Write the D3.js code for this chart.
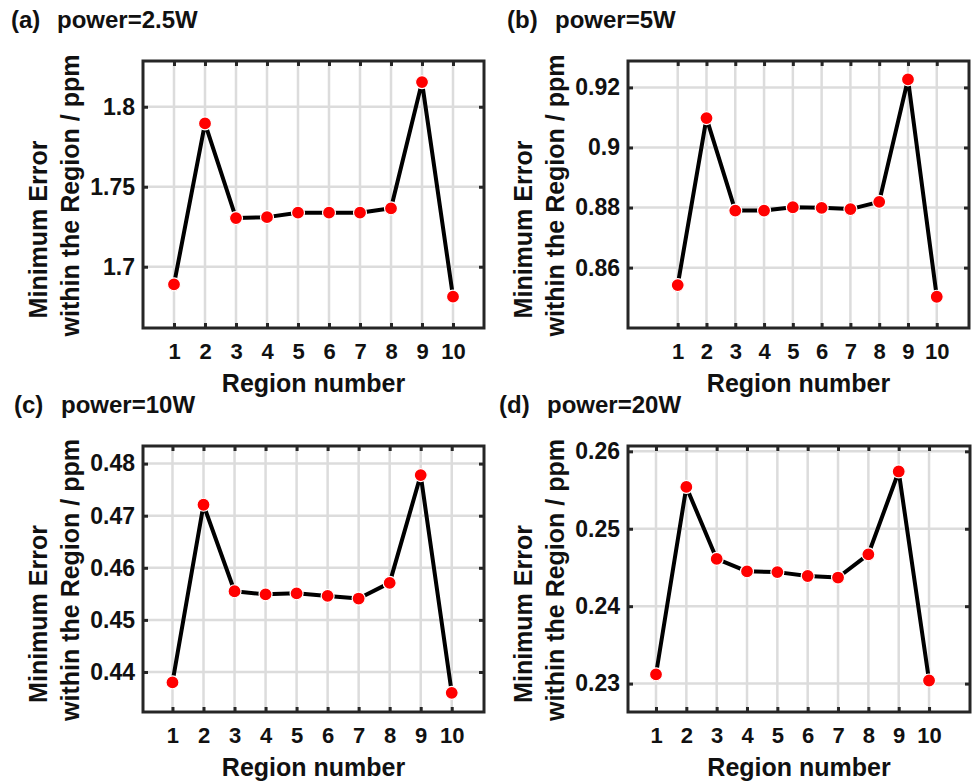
<!DOCTYPE html>
<html>
<head>
<meta charset="utf-8">
<script src="https://cdn.jsdelivr.net/npm/d3@7"></script>
<style>
  body { margin: 0; background: #fff; }
  text { font-family: "Liberation Sans", Arial, Helvetica, sans-serif; font-weight: bold; fill: #111; }
</style>
</head>
<body>
<div id="chart"></div>
<script>
// data
var regions = [1, 2, 3, 4, 5, 6, 7, 8, 9, 10];
var errA = [1.6890, 1.7896, 1.7304, 1.7310, 1.7338, 1.7338, 1.7338, 1.7365, 1.8154, 1.6813];
var errB = [0.8542, 0.9098, 0.8790, 0.8790, 0.8801, 0.8799, 0.8795, 0.8819, 0.9227, 0.8503];
var errC = [0.4380, 0.4721, 0.4555, 0.4549, 0.4551, 0.4546, 0.4541, 0.4571, 0.4778, 0.4360];
var errD = [0.2312, 0.2554, 0.2461, 0.2445, 0.2444, 0.2439, 0.2437, 0.2467, 0.2574, 0.2304];

var ticksA = [1.7, 1.75, 1.8];
var ticksB = [0.86, 0.88, 0.9, 0.92];
var ticksC = [0.44, 0.45, 0.46, 0.47, 0.48];
var ticksD = [0.23, 0.24, 0.25, 0.26];

var letters = ["(a)", "(b)", "(c)", "(d)"];
var powers = ["power=2.5W", "power=5W", "power=10W", "power=20W"];
var xLabel = "Region number";
var yLabel1 = "Minimum Error";
var yLabel2 = "within the Region / ppm";

// layout of each panel (plot box in page pixels, axis domains)
var panels = [
  {vals: errA, ticks: ticksA, left: 143, top: 61, right: 484, bottom: 328,
   xdom: [0, 11], ydom: [1.6617, 1.8286], letterX: 11, powerX: 57, titleY: 28},
  {vals: errB, ticks: ticksB, left: 628, top: 61, right: 969, bottom: 328,
   xdom: [-0.727, 11.12], ydom: [0.8399, 0.9288], letterX: 507, powerX: 555, titleY: 28},
  {vals: errC, ticks: ticksC, left: 143, top: 446, right: 484, bottom: 712,
   xdom: [0.05, 11.04], ydom: [0.43232, 0.48338], letterX: 14, powerX: 61, titleY: 413},
  {vals: errD, ticks: ticksD, left: 628, top: 446, right: 970, bottom: 712,
   xdom: [0.077, 11.35], ydom: [0.22633, 0.26069], letterX: 499, powerX: 547, titleY: 413}
];

var svg = d3.select("#chart").append("svg")
    .attr("width", 973)
    .attr("height", 781);

var fmt = function(d) { return String(+d.toFixed(4)); };

panels.forEach(function(p, i) {
  var w = p.right - p.left,
      h = p.bottom - p.top;

  var x = d3.scaleLinear().domain(p.xdom).range([0, w]);
  var y = d3.scaleLinear().domain(p.ydom).range([h, 0]);

  var g = svg.append("g")
      .attr("transform", "translate(" + p.left + "," + p.top + ")");

  // grid
  g.selectAll(".vgrid")
      .data(regions)
      .enter().append("line")
      .attr("x1", function(d) { return x(d); })
      .attr("x2", function(d) { return x(d); })
      .attr("y1", 0).attr("y2", h)
      .attr("stroke", "#dcdcdc")
      .attr("stroke-width", 2.5);

  g.selectAll(".hgrid")
      .data(p.ticks)
      .enter().append("line")
      .attr("x1", 0).attr("x2", w)
      .attr("y1", function(d) { return y(d); })
      .attr("y2", function(d) { return y(d); })
      .attr("stroke", "#dcdcdc")
      .attr("stroke-width", 2.5);

  // axes, ticks pointing inward on all four sides
  var bottom = g.append("g")
      .attr("transform", "translate(0," + h + ")")
      .call(d3.axisBottom(x).tickValues(regions).tickSize(-5).tickPadding(15));
  g.append("g")
      .call(d3.axisTop(x).tickValues(regions).tickSize(-5).tickFormat(""));
  var left = g.append("g")
      .call(d3.axisLeft(y).tickValues(p.ticks).tickSize(-5).tickPadding(8).tickFormat(fmt));
  g.append("g")
      .attr("transform", "translate(" + w + ",0)")
      .call(d3.axisRight(y).tickValues(p.ticks).tickSize(-5).tickFormat(""));

  g.selectAll(".domain").remove();
  g.selectAll(".tick line").attr("stroke", "#262626").attr("stroke-width", 3);
  bottom.selectAll("text").style("font-size", "22px").attr("fill", "#111");
  left.selectAll("text").style("font-size", "23px").attr("fill", "#111");

  // box
  g.append("rect")
      .attr("width", w)
      .attr("height", h)
      .attr("fill", "none")
      .attr("stroke", "#262626")
      .attr("stroke-width", 3);

  // line and markers
  var line = d3.line()
      .x(function(d, j) { return x(regions[j]); })
      .y(function(d) { return y(d); });

  g.append("path")
      .datum(p.vals)
      .attr("d", line)
      .attr("fill", "none")
      .attr("stroke", "#000")
      .attr("stroke-width", 4)
      .attr("stroke-linejoin", "round");

  g.selectAll(".dot")
      .data(p.vals)
      .enter().append("circle")
      .attr("cx", function(d, j) { return x(regions[j]); })
      .attr("cy", function(d) { return y(d); })
      .attr("r", 6.5)
      .attr("fill", "#ff0000")
      .attr("stroke", "#fff")
      .attr("stroke-width", 1.2);

  // axis labels
  g.append("text")
      .attr("x", w / 2)
      .attr("y", h + 64)
      .attr("text-anchor", "middle")
      .style("font-size", "25px")
      .text(xLabel);

  g.append("text")
      .attr("transform", "translate(" + (-96) + "," + (h / 2 + 35) + ") rotate(-90)")
      .attr("text-anchor", "middle")
      .style("font-size", "25px")
      .text(yLabel1);

  g.append("text")
      .attr("transform", "translate(" + (-64) + "," + (h / 2 + 1) + ") rotate(-90)")
      .attr("text-anchor", "middle")
      .style("font-size", "25px")
      .text(yLabel2);

  // panel title
  svg.append("text")
      .attr("x", p.letterX)
      .attr("y", p.titleY)
      .style("font-size", "24px")
      .text(letters[i]);
  svg.append("text")
      .attr("x", p.powerX)
      .attr("y", p.titleY)
      .style("font-size", "24px")
      .text(powers[i]);
});
</script>
</body>
</html>
